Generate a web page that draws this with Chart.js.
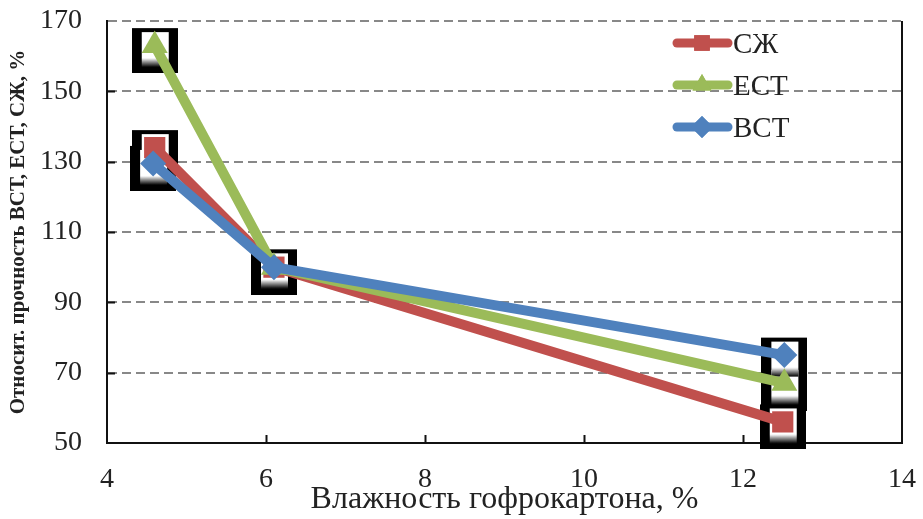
<!DOCTYPE html>
<html>
<head>
<meta charset="utf-8">
<script src="https://cdn.jsdelivr.net/npm/chart.js@4.4.0/dist/chart.umd.min.js"></script>
<style>
  html, body { margin: 0; padding: 0; background: #fff; }
  #wrap { width: 923px; height: 519px; }
</style>
</head>
<body>
<div id="wrap"><canvas id="chart"></canvas></div>
<script>
// values
const xSZh = [4.6, 6.1, 12.5];
const valSZh = [134, 100, 56];
const xEST = [4.6, 6.1, 12.52];
const valEST = [163, 100, 67];
const xVST = [4.58, 6.1, 12.52];
const valVST = [129.5, 100, 75];

const seriesNames = ['СЖ', 'ЕСТ', 'ВСТ'];
const xTicks = [4, 6, 8, 10, 12, 14];
const yTicks = [50, 70, 90, 110, 130, 150, 170];

const COLORS = {
    red: 'rgb(192, 80, 77)',
    green: 'rgb(155, 187, 89)',
    blue: 'rgb(79, 129, 189)'
};

const FONT = "'Liberation Serif', 'Times New Roman', serif";

function toPoints(xs, ys) {
    return xs.map((x, i) => ({ x: x, y: ys[i] }));
}

const allPoints = [].concat(
    toPoints(xSZh, valSZh),
    toPoints(xEST, valEST),
    toPoints(xVST, valVST)
);

// frame images: black box, then white inside with a soft shadow
function makeFrame(inner) {
    const c = document.createElement('canvas');
    c.width = 46;
    c.height = 55;
    const g = c.getContext('2d');
    if (!inner) {
        g.fillStyle = '#000';
        g.fillRect(0, 10, 46, 45);
    } else {
        g.fillStyle = '#fff';
        g.fillRect(10, 14, 27, 32);
        const grad = g.createLinearGradient(0, 40, 0, 49);
        grad.addColorStop(0, 'rgba(255,255,255,1)');
        grad.addColorStop(0.4, 'rgba(150,150,150,1)');
        grad.addColorStop(1, 'rgba(0,0,0,1)');
        g.fillStyle = grad;
        g.fillRect(10, 40, 27, 9);
    }
    return c;
}

const series = [
    { label: seriesNames[0], data: toPoints(xSZh, valSZh), color: COLORS.red, style: 'rect', radius: 15, order: 3 },
    { label: seriesNames[1], data: toPoints(xEST, valEST), color: COLORS.green, style: 'triangle', radius: 15, order: 2 },
    { label: seriesNames[2], data: toPoints(xVST, valVST), color: COLORS.blue, style: 'rectRot', radius: 13, order: 1 }
];

const datasets = series.map(s => ({
    label: s.label,
    data: s.data,
    showLine: true,
    borderColor: s.color,
    backgroundColor: s.color,
    borderWidth: 10,
    pointStyle: s.style,
    pointRadius: s.radius,
    pointHoverRadius: s.radius,
    pointBorderWidth: 0,
    order: s.order
}));

datasets.push({
    label: 'frameOuter',
    data: allPoints,
    showLine: false,
    pointStyle: makeFrame(false),
    pointRadius: 20,
    clip: false,
    order: 20
});
datasets.push({
    label: 'frameInner',
    data: allPoints,
    showLine: false,
    pointStyle: makeFrame(true),
    pointRadius: 20,
    clip: false,
    order: 19
});

const framePlugin = {
    id: 'framePlugin',
    afterDraw(chart) {
        const ctx = chart.ctx;
        const a = chart.chartArea;
        const sx = chart.scales.x;
        const sy = chart.scales.y;
        ctx.save();
        ctx.strokeStyle = '#111';
        ctx.lineWidth = 2;
        ctx.beginPath();
        ctx.moveTo(a.right, a.top);
        ctx.lineTo(a.right, a.bottom + 1);
        xTicks.slice(1, -1).forEach(v => {
            const px = Math.round(sx.getPixelForValue(v)) + 0.5;
            ctx.moveTo(px, a.bottom);
            ctx.lineTo(px, a.bottom - 8);
        });
        yTicks.slice(1, -1).forEach(v => {
            const py = Math.round(sy.getPixelForValue(v)) + 0.5;
            ctx.moveTo(a.left, py);
            ctx.lineTo(a.left + 8, py);
        });
        ctx.stroke();

        // legend inside the plot, top right
        ctx.font = '29px ' + FONT;
        ctx.textBaseline = 'middle';
        ctx.textAlign = 'left';
        series.forEach((s, i) => {
            const y = 43 + i * 42;
            ctx.strokeStyle = s.color;
            ctx.fillStyle = s.color;
            ctx.lineWidth = 9;
            ctx.lineCap = 'round';
            ctx.beginPath();
            ctx.moveTo(677, y);
            ctx.lineTo(728, y);
            ctx.stroke();
            Chart.helpers.drawPoint(ctx, { pointStyle: s.style, radius: 11, borderWidth: 0 }, 702, y);
            ctx.fill();
            ctx.fillStyle = '#222';
            ctx.fillText(s.label, 733, y + 2);
        });
        ctx.restore();
    }
};

const config = {
    type: 'scatter',
    data: { datasets: datasets },
    options: {
        responsive: true,
        maintainAspectRatio: false,
        animation: false,
        layout: { padding: 0 },
        plugins: {
            legend: { display: false },
            tooltip: { enabled: false }
        },
        scales: {
            x: {
                type: 'linear',
                min: 4,
                max: 14,
                afterBuildTicks: axis => { axis.ticks = xTicks.map(v => ({ value: v })); },
                afterFit: axis => { axis.height = 76; axis.paddingRight = 18; },
                grid: { display: false, drawTicks: false },
                border: { display: true, color: '#111', width: 2 },
                ticks: { color: '#222', padding: 20, font: { family: FONT, size: 28 } },
                title: {
                    display: true,
                    text: 'Влажность гофрокартона, %',
                    color: '#222',
                    font: { family: FONT, size: 32 },
                    padding: { top: 0, bottom: 0 }
                }
            },
            y: {
                min: 50,
                max: 170,
                afterBuildTicks: axis => { axis.ticks = yTicks.map(v => ({ value: v })); },
                afterFit: axis => { axis.width = 107; axis.paddingTop = 20; axis.paddingBottom = 0; },
                grid: {
                    color: '#888',
                    lineWidth: 2,
                    drawTicks: false,
                    tickLength: 0
                },
                border: { display: true, color: '#111', width: 2, dash: [9, 5] },
                ticks: { color: '#222', padding: 25, font: { family: FONT, size: 28 } },
                title: {
                    display: true,
                    text: 'Относит. прочность ВСТ, ЕСТ, СЖ, %',
                    color: '#222',
                    font: { family: FONT, size: 21, weight: 'bold' },
                    padding: { top: 6, bottom: 0 }
                }
            }
        }
    },
    plugins: [framePlugin]
};

new Chart(document.getElementById('chart'), config);
</script>
</body>
</html>
